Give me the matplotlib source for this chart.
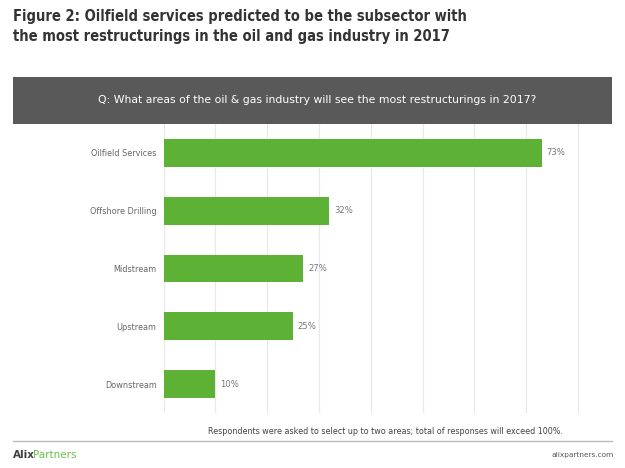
import matplotlib
matplotlib.use("Agg")
import matplotlib.pyplot as plt
from matplotlib.patches import Rectangle

categories = ["Oilfield Services", "Offshore Drilling", "Midstream", "Upstream", "Downstream"]
values = [73, 32, 27, 25, 10]
value_labels = ["73%", "32%", "27%", "25%", "10%"]

W, H = 625, 468
fig = plt.figure(figsize=(W/100, H/100), dpi=100)
plt.rcParams['font.family'] = ['DejaVu Sans']

def fx(x): return x / W
def fy(y): return 1 - y / H

# Title
title_lines = ["Figure 2: Oilfield services predicted to be the subsector with",
               "the most restructurings in the oil and gas industry in 2017"]
for i, line in enumerate(title_lines):
    fig.text(fx(13), fy(17 + 20 * i), line, fontsize=10.5, fontweight='bold',
             fontstretch='condensed', color='#333333', va='center', ha='left')

# Header box
fig.patches.append(Rectangle((fx(13), fy(124)), fx(612) - fx(13), fy(77) - fy(124),
                             transform=fig.transFigure, facecolor='#595959', edgecolor='none'))
fig.text(fx(317), fy(100), "Q: What areas of the oil & gas industry will see the most restructurings in 2017?",
         fontsize=7.8, color='white', ha='center', va='center')

# Axes
ax = fig.add_axes([fx(163.5), fy(413), fx(630) - fx(163.5), fy(124) - fy(413)])
ax.set_xlim(0, 80 * (630 - 163.5) / (578 - 163.5))
y = list(range(len(categories)))
ax.barh(y, values, height=0.48, color='#5db135', zorder=3)
ax.set_ylim(len(categories) - 0.5, -0.5)
ax.set_yticks(y)
ax.set_yticklabels(categories, fontsize=5.9, color='#666666')
ax.tick_params(axis='y', length=0, pad=5)
ax.set_xticks(range(0, 81, 10))
ax.tick_params(axis='x', length=0, labelbottom=False)
ax.grid(axis='x', color='#e8e8e8', linewidth=0.9, zorder=0)
for s in ax.spines.values():
    s.set_visible(False)
for yi, v, lab in zip(y, values, value_labels):
    ax.text(v + 0.9, yi, lab, fontsize=6.1, color='#777777', va='center', ha='left')

# Footnote
fig.text(fx(563), fy(432), "Respondents were asked to select up to two areas; total of responses will exceed 100%.",
         fontsize=5.8, color='#444444', ha='right', va='center')
fig.lines.append(plt.Line2D([fx(13), fx(612)], [fy(441), fy(441)], transform=fig.transFigure,
                            color='#bbbbbb', linewidth=1))
t1 = fig.text(fx(13), fy(455), "Alix", fontsize=7.5, color='#404040', fontweight='bold', ha='left', va='center')
fig.canvas.draw()
bb = t1.get_window_extent()
fig.text((bb.x1 - 2) / W, fy(455), "Partners", fontsize=7.5, color='#6cc04a', ha='left', va='center')
fig.text(fx(614), fy(455), "alixpartners.com", fontsize=5.3, color='#555555', ha='right', va='center')

fig.savefig("out.png", dpi=100)
